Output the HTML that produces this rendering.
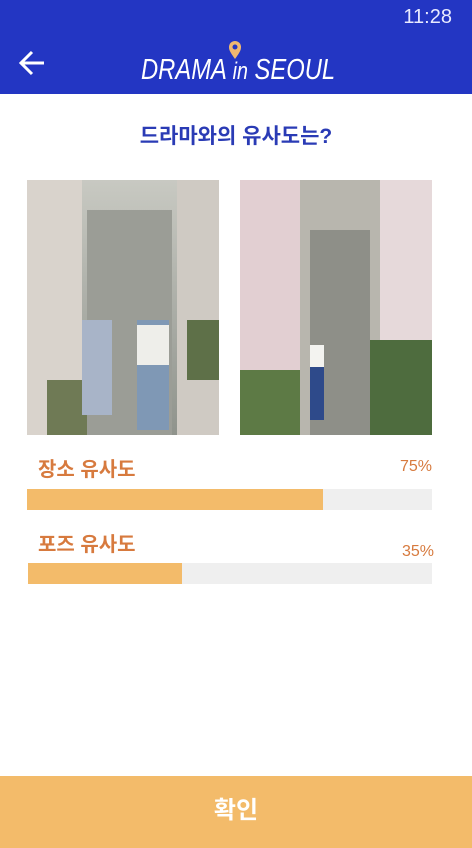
<!DOCTYPE html>
<html><head><meta charset="utf-8"><style>
body{margin:0;width:472px;height:848px;position:relative;background:#fff;font-family:"Liberation Sans","Noto Sans CJK KR",sans-serif;overflow:hidden}
.abs{position:absolute}
</style></head><body>
<div class="abs" style="left:0;top:0;width:472px;height:94px;background:#2336c3"></div>
<div class="abs" style="right:20px;top:6px;color:#e8eaff;font-size:20px">11:28</div>
<svg class="abs" style="left:18px;top:48px" width="30" height="30" viewBox="0 0 30 30"><path d="M26 15H4M14 4L3 15l11 11" stroke="#fff" stroke-width="3" fill="none"/></svg>
<div class="abs" style="left:141px;top:54px;width:188px;white-space:nowrap;color:#fff;font-size:29px;font-style:italic;line-height:32px"><span style="display:inline-block;transform:scaleX(0.82);transform-origin:left">DRAMA <span style="font-size:24px">in</span> SEOUL</span></div>
<svg class="abs" style="left:228px;top:40px" width="14" height="20" viewBox="0 0 14 20"><path d="M7 19C2 12 1 10 1 7a6 6 0 0 1 12 0c0 3-1 5-6 12z" fill="#f0b870"/><circle cx="7" cy="7" r="2.5" fill="#2336c3"/></svg>
<div class="abs" style="left:0;top:120px;width:472px;text-align:center;color:#2a3bb5;font-size:21px;font-weight:bold">드라마와의 유사도는?</div>
<svg class="abs" style="left:27px;top:180px" width="192" height="255">
<defs><linearGradient id="g1" x1="0" y1="0" x2="0" y2="1"><stop offset="0" stop-color="#c8c9c2"/><stop offset="1" stop-color="#8f938c"/></linearGradient></defs>
<rect width="192" height="255" fill="url(#g1)"/>
<rect x="0" y="0" width="55" height="255" fill="#d9d3cc"/><rect x="150" y="0" width="42" height="255" fill="#cfcac3"/>
<rect x="60" y="30" width="85" height="225" fill="#9b9d96"/>
<rect x="20" y="200" width="40" height="55" fill="#6f7a55"/><rect x="160" y="140" width="32" height="60" fill="#5e7048"/>
<rect x="55" y="140" width="30" height="95" fill="#a8b4c8"/><rect x="110" y="140" width="32" height="110" fill="#7f98b5"/><rect x="110" y="145" width="32" height="40" fill="#eeeeea"/>
</svg>
<svg class="abs" style="left:240px;top:180px" width="192" height="255">
<rect width="192" height="255" fill="#b8b6ae"/>
<rect x="0" y="0" width="60" height="255" fill="#e2cfd2"/><rect x="140" y="0" width="52" height="255" fill="#e6d9da"/>
<rect x="70" y="50" width="60" height="205" fill="#8e8f88"/>
<rect x="0" y="190" width="60" height="65" fill="#5d7a45"/><rect x="130" y="160" width="62" height="95" fill="#4e6c3e"/>
<rect x="70" y="170" width="14" height="70" fill="#2e4a8a"/><rect x="70" y="165" width="14" height="22" fill="#f3f3f0"/>
</svg>
<div class="abs" style="left:38px;top:453px;color:#d77a3e;font-size:20px;font-weight:bold">장소 유사도</div>
<div class="abs" style="left:380px;top:458px;width:52px;text-align:right;color:#d77a3e;font-size:16px" id="v0"></div>
<div class="abs" style="left:27px;top:489px;width:405px;height:21px;background:#efefef"><div id="b0" style="height:100%;background:#f3bb6a"></div></div>
<div class="abs" style="left:38px;top:528px;color:#d77a3e;font-size:20px;font-weight:bold">포즈 유사도</div>
<div class="abs" style="left:380px;top:543px;width:54px;text-align:right;color:#d77a3e;font-size:16px" id="v1"></div>
<div class="abs" style="left:28px;top:563px;width:404px;height:21px;background:#efefef"><div id="b1" style="height:100%;background:#f3bb6a"></div></div>
<div class="abs" style="left:0;top:776px;width:472px;height:72px;background:#f3bb6a;color:#fff;font-size:24px;font-weight:bold;text-align:center;line-height:70px">확인</div>
<script>
const categories=["장소 유사도","포즈 유사도"];
const values=[73,38];
const labels=["75%","35%"];
values.forEach((v,i)=>{
  document.getElementById('b'+i).style.width=(v/100*100)+'%';
  document.getElementById('v'+i).textContent=labels[i];
});
</script>
</body></html>
